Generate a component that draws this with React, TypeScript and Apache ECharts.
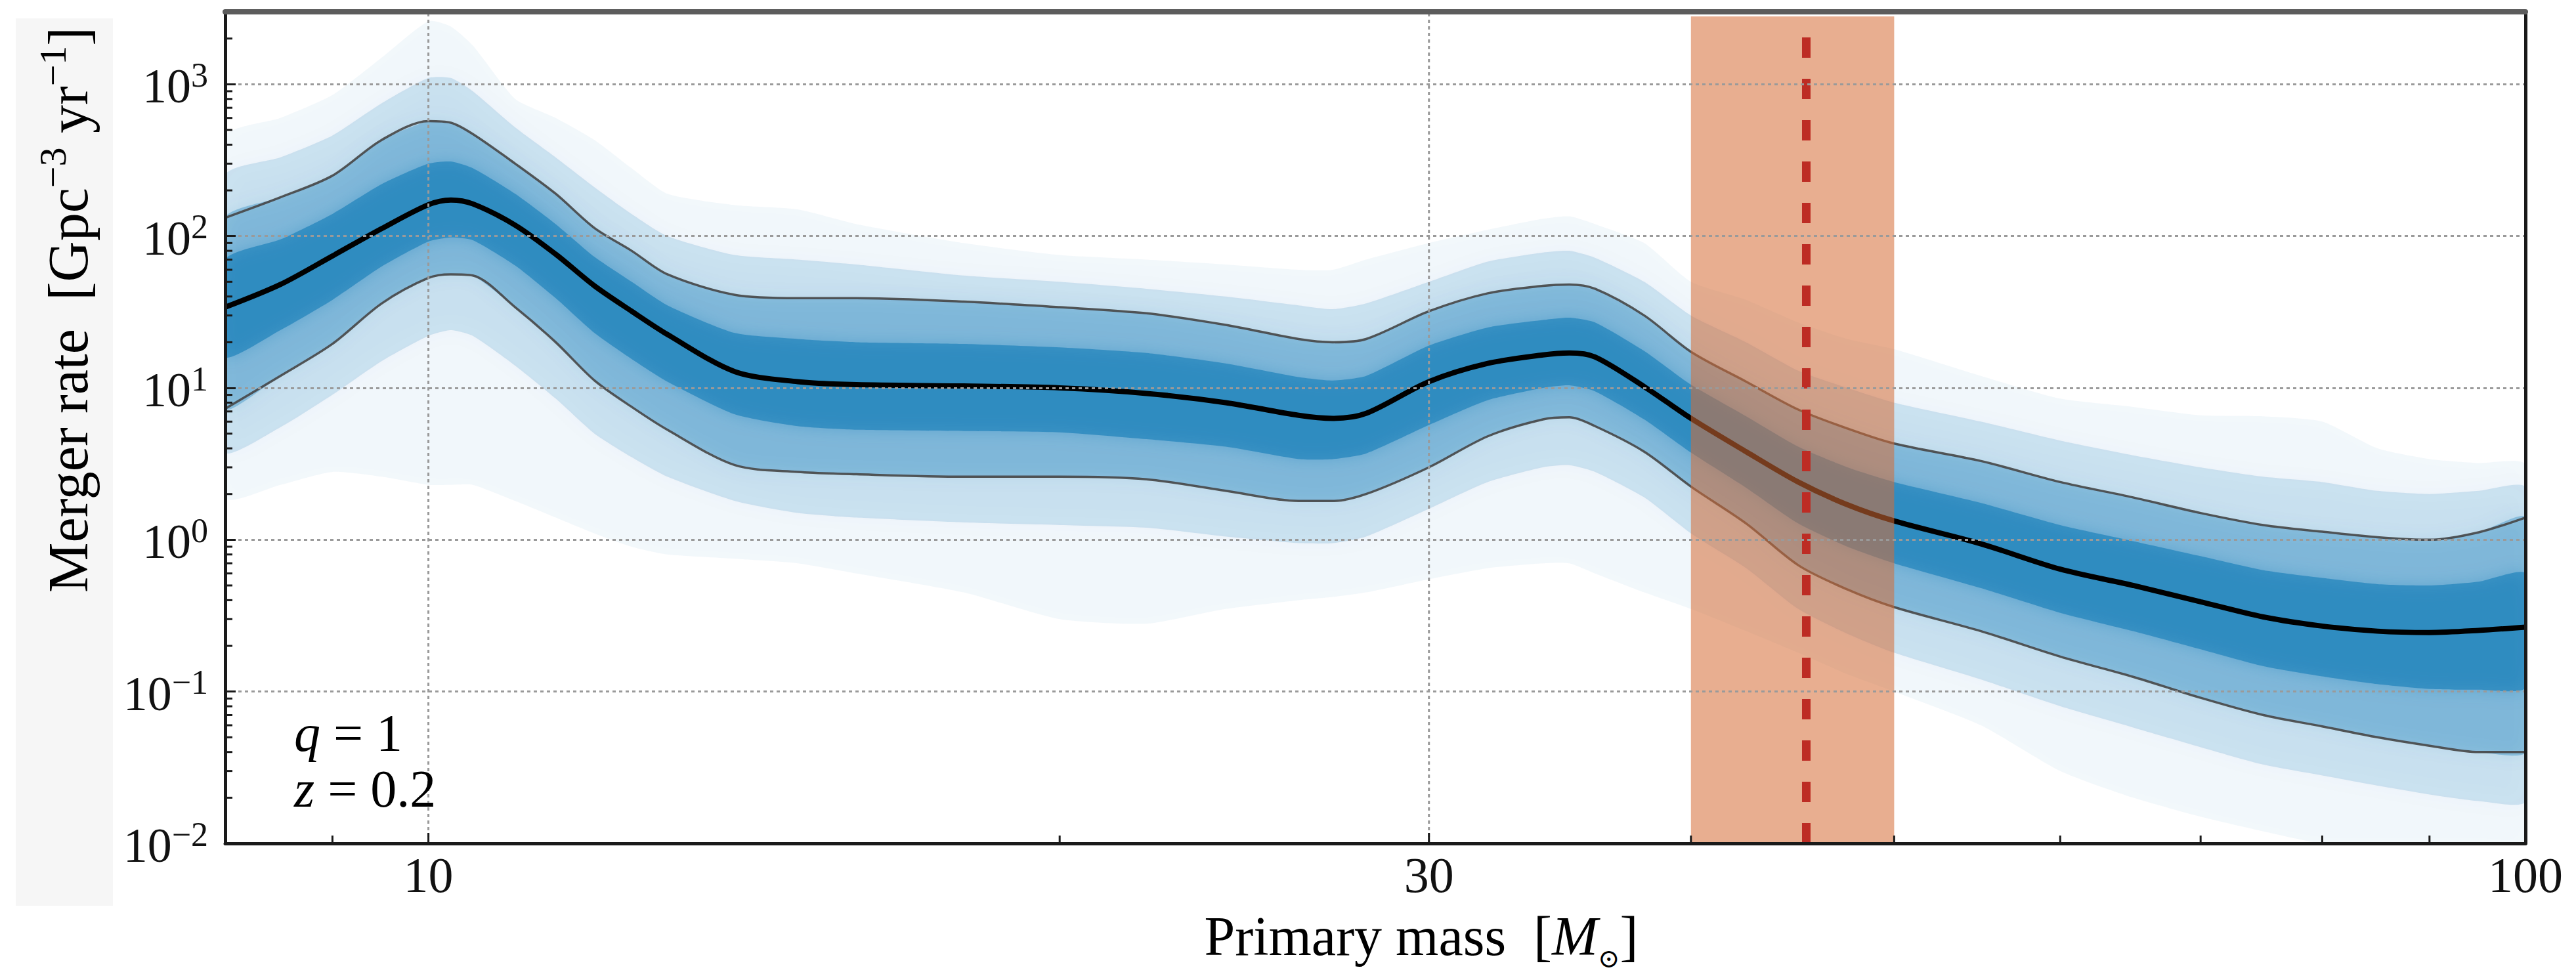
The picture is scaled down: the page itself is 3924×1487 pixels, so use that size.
import React, { useEffect, useRef } from "react";
import * as echarts from "echarts";

// ---------- data ----------
const mass = [8, 8.5, 9, 9.5, 10, 10.25, 10.5, 11, 11.5, 12, 12.5, 13, 14, 15, 16, 18, 20, 22, 24, 26, 27, 28, 30, 32, 34, 35, 36, 38, 40, 42.5, 45, 47.5, 50, 55, 60, 65, 70, 75, 80, 85, 90, 95, 100];
const median = [34, 48, 74, 112, 161, 173, 163, 118, 76, 47, 32, 22.5, 12.8, 11.0, 10.5, 10.3, 10.0, 9.2, 8.0, 6.6, 6.3, 6.8, 11, 14.5, 16.5, 17, 16, 10.2, 6.3, 3.8, 2.4, 1.7, 1.33, 0.94, 0.64, 0.5, 0.39, 0.31, 0.27, 0.25, 0.245, 0.253, 0.266];
const upper90 = [132, 180, 250, 430, 572, 558, 470, 300, 190, 113, 80, 56, 41, 39, 39, 37, 34, 31, 26, 21, 20, 21, 32, 42, 47, 48, 45, 30, 17.3, 11, 7.2, 5.4, 4.3, 3.3, 2.4, 1.9, 1.5, 1.25, 1.13, 1.04, 1.0, 1.12, 1.4];
const lower90 = [7.3, 12, 19.5, 36, 53, 56, 55, 34, 20, 11.2, 7.5, 5.3, 3.1, 2.8, 2.7, 2.6, 2.6, 2.5, 2.1, 1.8, 1.8, 2.0, 3.0, 4.8, 6.2, 6.4, 5.6, 3.8, 2.24, 1.28, 0.68, 0.47, 0.36, 0.25, 0.17, 0.125, 0.091, 0.07, 0.059, 0.05, 0.044, 0.04, 0.04];
const coreUpper = [70, 95, 140, 220, 300, 310, 280, 190, 120, 73, 50, 35, 23, 21, 20, 19.5, 18.5, 17, 14.5, 11.8, 11.2, 12, 19, 25, 28, 29, 27, 17.5, 10.5, 6.5, 4.1, 3.0, 2.4, 1.75, 1.25, 0.98, 0.78, 0.63, 0.56, 0.51, 0.5, 0.53, 0.6];
const coreLower = [16, 24, 38, 63, 92, 98, 94, 64, 39, 23, 15.5, 11, 6.7, 5.6, 5.3, 5.2, 5.1, 4.6, 4.1, 3.4, 3.4, 3.7, 5.7, 8.3, 10, 10.4, 9.5, 6.2, 3.75, 2.2, 1.28, 0.9, 0.7, 0.48, 0.33, 0.25, 0.19, 0.147, 0.126, 0.112, 0.104, 0.103, 0.106];
const wideUpper = [250, 330, 460, 750, 1100, 1100, 900, 520, 330, 210, 140, 100, 75, 70, 65, 55, 50, 45, 40, 35, 33, 36, 50, 68, 78, 80, 72, 50, 30, 20, 13, 10, 8, 6, 4.5, 3.6, 3.0, 2.6, 2.4, 2.1, 2.0, 2.1, 2.2];
const wideLower = [3.8, 5.5, 9, 15, 22, 24, 22, 14, 8.5, 5, 3.5, 2.6, 1.8, 1.5, 1.4, 1.3, 1.25, 1.2, 1.05, 0.95, 0.95, 1.05, 1.6, 2.4, 3.0, 3.1, 2.8, 1.9, 1.1, 0.65, 0.35, 0.24, 0.18, 0.12, 0.08, 0.058, 0.043, 0.033, 0.028, 0.024, 0.021, 0.019, 0.019];
const outerUpper = [450, 600, 850, 1500, 2600, 2400, 1800, 800, 600, 430, 280, 190, 160, 150, 120, 90, 75, 70, 65, 60, 60, 70, 90, 110, 130, 135, 120, 90, 50, 38, 27, 21, 18, 12, 8.5, 7.5, 6.6, 6.5, 6, 4, 3.4, 3.2, 3.1];
const outerLower = [1.9, 2.3, 2.8, 2.6, 2.3, 2.3, 2.3, 1.8, 1.4, 1.1, 0.9, 0.8, 0.75, 0.7, 0.6, 0.45, 0.3, 0.28, 0.35, 0.4, 0.42, 0.45, 0.55, 0.65, 0.7, 0.7, 0.6, 0.45, 0.35, 0.25, 0.18, 0.13, 0.1, 0.06, 0.03, 0.02, 0.015, 0.012, 0.01, 0.01, 0.01, 0.01, 0.01];

const xMajorTicks = [10, 30, 100];
const xMajorLabels = ["10", "30", "100"];
const xGridValues = [10, 30];
const xMinorTicks = [9, 20, 40, 50, 60, 70, 80, 90];
const yMinorTicks = [
  0.02, 0.03, 0.04, 0.05, 0.06, 0.07, 0.08, 0.09,
  0.2, 0.3, 0.4, 0.5, 0.6, 0.7, 0.8, 0.9,
  2, 3, 4, 5, 6, 7, 8, 9,
  20, 30, 40, 50, 60, 70, 80, 90,
  200, 300, 400, 500, 600, 700, 800, 900,
  2000,
];
const windowRange = [40, 50];
const markerMass = 45.4;
const X_MIN = 8;
const X_MAX = 100;
const Y_MIN = 0.01;
const Y_MAX = 3000;

const SERIF = "'Liberation Serif', 'DejaVu Serif', serif";
const BLUE = "0,114,178";

function bandSeries(up: number[], lo: number[], alpha: number, blur: number) {
  const color = `rgba(${BLUE},${alpha})`;
  return {
    type: "custom",
    z: 1,
    silent: true,
    clip: true,
    data: [[mass[0], up[0]]],
    renderItem: (_params: any, api: any) => {
      const pts: number[][] = [];
      for (let i = 0; i < mass.length; i++) pts.push(api.coord([mass[i], up[i]]));
      for (let i = mass.length - 1; i >= 0; i--) pts.push(api.coord([mass[i], lo[i]]));
      return {
        type: "polygon",
        shape: { points: pts, smooth: 0.2 },
        style: { fill: color, shadowBlur: blur, shadowColor: color },
      };
    },
  };
}

function lineData(arr: number[]) {
  return mass.map((m, i) => [m, arr[i]]);
}

export default function App() {
  const ref = useRef<HTMLDivElement>(null);

  useEffect(() => {
    if (!ref.current) return;
    const chart = echarts.init(ref.current, undefined, { renderer: "svg" });

    const option: any = {
      animation: false,
      backgroundColor: "#ffffff",
      textStyle: { fontFamily: SERIF },
      grid: { left: 343, right: 77, top: 18, bottom: 202, show: false },
      xAxis: [
        {
          type: "log", logBase: 10, min: X_MIN, max: X_MAX, position: "bottom", z: 12,
          axisLine: { show: true, onZero: false, lineStyle: { color: "#1a1a1a", width: 5 } },
          axisTick: { show: false }, axisLabel: { show: false }, splitLine: { show: false },
        },
        {
          type: "log", logBase: 10, min: X_MIN, max: X_MAX, position: "top", z: 12,
          axisLine: { show: true, onZero: false, lineStyle: { color: "#5c5c5c", width: 8 } },
          axisTick: { show: false }, axisLabel: { show: false }, splitLine: { show: false },
        },
      ],
      yAxis: [
        {
          type: "log", logBase: 10, min: Y_MIN, max: Y_MAX, position: "left", z: 12,
          axisLine: { show: true, onZero: false, lineStyle: { color: "#1a1a1a", width: 5 } },
          axisTick: { show: true, inside: true, length: 16, lineStyle: { color: "#1a1a1a", width: 3 } },
          axisLabel: {
            show: true, margin: 26, showMaxLabel: false, fontFamily: SERIF,
            formatter: (v: number) => {
              const e = Math.round(Math.log10(v));
              const s = e < 0 ? "\u2212" + -e : String(e);
              return `{b|10}{s|${s}}`;
            },
            rich: {
              b: { fontFamily: SERIF, fontSize: 74, color: "#111", lineHeight: 80, verticalAlign: "bottom" },
              s: { fontFamily: SERIF, fontSize: 52, color: "#111", lineHeight: 50, verticalAlign: "top" },
            },
          },
          splitLine: { show: true, lineStyle: { color: "#9a9a9a", width: 3, type: [5, 5] } },
        },
        {
          type: "log", logBase: 10, min: Y_MIN, max: Y_MAX, position: "right", z: 12,
          axisLine: { show: true, onZero: false, lineStyle: { color: "#1a1a1a", width: 5 } },
          axisTick: { show: false }, axisLabel: { show: false }, splitLine: { show: false },
        },
      ],
      series: [
        bandSeries(outerUpper, outerLower, 0.05, 30),
        bandSeries(wideUpper, wideLower, 0.15, 30),
        bandSeries(upper90, lower90, 0.3, 25),
        bandSeries(coreUpper, coreLower, 0.5, 25),
        {
          type: "line", z: 3, silent: true, showSymbol: false, smooth: 0.3,
          data: lineData(upper90),
          lineStyle: { color: "rgba(70,70,70,0.9)", width: 3.5 },
        },
        {
          type: "line", z: 3, silent: true, showSymbol: false, smooth: 0.3,
          data: lineData(lower90),
          lineStyle: { color: "rgba(70,70,70,0.9)", width: 3.5 },
        },
        {
          type: "line", z: 4, silent: true, showSymbol: false, smooth: 0.3,
          data: lineData(median),
          lineStyle: { color: "#000000", width: 8 },
        },
        {
          type: "custom", z: 10, silent: true,
          data: [[windowRange[0], windowRange[1]]],
          renderItem: (_p: any, api: any) => {
            const a = api.coord([api.value(0), Y_MAX]);
            const b = api.coord([api.value(1), Y_MIN]);
            return {
              type: "rect",
              shape: { x: a[0], y: a[1] + 7, width: b[0] - a[0], height: b[1] - a[1] - 7 },
              style: { fill: "rgba(214,108,52,0.55)" },
            };
          },
        },
        {
          type: "custom", z: 11, silent: true,
          data: [[markerMass, Y_MIN]],
          renderItem: (_p: any, api: any) => {
            const b = api.coord([api.value(0), Y_MIN]);
            const t = api.coord([api.value(0), Y_MAX]);
            return {
              type: "line",
              shape: { x1: b[0], y1: b[1], x2: t[0], y2: t[1] + 20 },
              style: { stroke: "#bd2c24", lineWidth: 13, lineDash: [31, 32], lineCap: "butt" },
            };
          },
        },
        {
          type: "custom", z: 12, silent: true,
          data: xGridValues.map((v) => [v, Y_MIN]),
          renderItem: (_p: any, api: any) => {
            const b = api.coord([api.value(0), Y_MIN]);
            const t = api.coord([api.value(0), Y_MAX]);
            return {
              type: "line",
              shape: { x1: b[0], y1: b[1], x2: t[0], y2: t[1] },
              style: { stroke: "#9a9a9a", lineWidth: 3, lineDash: [5, 5] },
            };
          },
        },
        {
          type: "custom", z: 13, silent: true,
          data: xMinorTicks.map((v) => [v, Y_MIN]),
          renderItem: (_p: any, api: any) => {
            const b = api.coord([api.value(0), Y_MIN]);
            return {
              type: "line",
              shape: { x1: b[0], y1: b[1], x2: b[0], y2: b[1] - 12 },
              style: { stroke: "#1a1a1a", lineWidth: 3 },
            };
          },
        },
        {
          type: "custom", z: 13, silent: true,
          data: xMajorTicks.map((v) => [v, Y_MIN]),
          renderItem: (p: any, api: any) => {
            const b = api.coord([api.value(0), Y_MIN]);
            const label = xMajorLabels[p.dataIndex];
            return {
              type: "group",
              children: [
                {
                  type: "line",
                  shape: { x1: b[0], y1: b[1], x2: b[0], y2: b[1] - 16 },
                  style: { stroke: "#1a1a1a", lineWidth: 3 },
                },
                {
                  type: "text",
                  x: b[0],
                  y: b[1] + 48,
                  style: {
                    text: label, fill: "#111", fontSize: 76, fontFamily: SERIF,
                    align: "center", verticalAlign: "middle",
                    textAlign: "center", textVerticalAlign: "middle",
                  },
                },
              ],
            };
          },
        },
        {
          type: "custom", z: 13, silent: true,
          data: yMinorTicks.map((v) => [X_MIN, v]),
          renderItem: (_p: any, api: any) => {
            const a = api.coord([X_MIN, api.value(1)]);
            return {
              type: "line",
              shape: { x1: a[0], y1: a[1], x2: a[0] + 11, y2: a[1] },
              style: { stroke: "#1a1a1a", lineWidth: 3 },
            };
          },
        },
      ],
      graphic: [
        {
          type: "rect", z: 0, silent: true,
          shape: { x: 24, y: 28, width: 148, height: 1352 },
          style: { fill: "#f6f6f6" },
        },
        {
          type: "text", z: 5, x: 99, y: 472, rotation: Math.PI / 2, silent: true,
          style: {
            text: "{a|Merger rate  [Gpc}{s|\u22123}{a| yr}{s|\u22121}{a|]}",
            fontFamily: SERIF,
            rich: {
              a: { fontFamily: SERIF, fontSize: 86, lineHeight: 96, color: "#111", verticalAlign: "bottom" },
              s: { fontFamily: SERIF, fontSize: 58, lineHeight: 58, color: "#111", verticalAlign: "top" },
            },
            align: "center", verticalAlign: "middle",
            textAlign: "center", textVerticalAlign: "middle",
          },
        },
        {
          type: "text", z: 5, x: 2165, y: 1432, silent: true,
          style: {
            text: "{a|Primary mass  [}{i|M}{o|\u2299}{a|]}",
            fontFamily: SERIF,
            rich: {
              a: { fontFamily: SERIF, fontSize: 84, lineHeight: 96, color: "#111", verticalAlign: "top" },
              i: { fontFamily: SERIF, fontStyle: "italic", fontSize: 84, lineHeight: 96, color: "#111", verticalAlign: "top" },
              o: { fontFamily: "'DejaVu Serif', serif", fontSize: 40, lineHeight: 44, color: "#111", verticalAlign: "bottom" },
            },
            align: "center", verticalAlign: "middle",
            textAlign: "center", textVerticalAlign: "middle",
          },
        },
        {
          type: "text", z: 15, x: 448, y: 1117, silent: true,
          style: {
            text: "{i|q}{n| = 1}",
            fontFamily: SERIF,
            rich: {
              i: { fontFamily: SERIF, fontStyle: "italic", fontSize: 80, color: "#111" },
              n: { fontFamily: SERIF, fontSize: 80, color: "#111" },
            },
            align: "left", verticalAlign: "middle",
            textAlign: "left", textVerticalAlign: "middle",
          },
        },
        {
          type: "text", z: 15, x: 448, y: 1202, silent: true,
          style: {
            text: "{i|z}{n| = 0.2}",
            fontFamily: SERIF,
            rich: {
              i: { fontFamily: SERIF, fontStyle: "italic", fontSize: 80, color: "#111" },
              n: { fontFamily: SERIF, fontSize: 80, color: "#111" },
            },
            align: "left", verticalAlign: "middle",
            textAlign: "left", textVerticalAlign: "middle",
          },
        },
      ],
    };

    chart.setOption(option);
    return () => {
      chart.dispose();
    };
  }, []);

  return (
    <div
      ref={ref}
      style={{ position: "absolute", left: 0, top: 0, width: 3924, height: 1487 }}
    />
  );
}
